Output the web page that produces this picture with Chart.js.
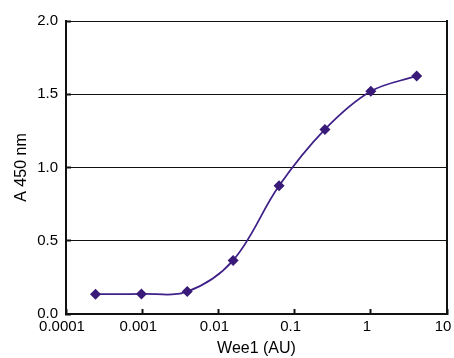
<!DOCTYPE html>
<html>
<head>
<meta charset="utf-8">
<script src="https://cdn.jsdelivr.net/npm/chart.js@4/dist/chart.umd.min.js"></script>
<style>
  html, body { margin: 0; padding: 0; background: #fff; }
  #wrap { width: 454px; height: 358px; position: relative; }
</style>
</head>
<body>
<div id="wrap"><canvas id="c" width="454" height="358"></canvas></div>
<script>
// Wee1 dilution series (AU) and measured absorbance at 450 nm
const wee1AU = [0.000244, 0.000977, 0.0039, 0.0156, 0.0625, 0.25, 1, 4];
const a450 = [0.135, 0.137, 0.153, 0.366, 0.875, 1.26, 1.52, 1.625];

// Axis ticks
const xTickValues = [0.0001, 0.001, 0.01, 0.1, 1, 10];
const xTickLabels = ['0.0001', '0.001', '0.01', '0.1', '1', '10'];
const yTickValues = [0, 0.5, 1.0, 1.5, 2.0];

const FONT = "'Liberation Sans', Arial, Helvetica, sans-serif";
const INK = '#111111';
const LINE = '#3f2088';
const MARK = '#3a1a78';

new Chart(document.getElementById('c'), {
  type: 'scatter',
  data: {
    datasets: [{
      data: wee1AU.map((x, i) => ({ x: x, y: a450[i] })),
      showLine: true,
      tension: 0.35,
      borderColor: LINE,
      borderWidth: 1.75,
      pointStyle: 'rectRot',
      pointRadius: 5.5,
      pointHoverRadius: 5.5,
      pointBackgroundColor: MARK,
      pointBorderColor: MARK,
      pointBorderWidth: 0
    }]
  },
  options: {
    responsive: false,
    animation: false,
    devicePixelRatio: 1,
    layout: { padding: { top: 21, right: 7, left: 0, bottom: 0 } },
    plugins: { legend: { display: false }, tooltip: { enabled: false } },
    scales: {
      x: {
        type: 'logarithmic',
        min: 0.0001,
        max: 10,
        afterBuildTicks: s => { s.ticks = xTickValues.map(v => ({ value: v })); },
        afterFit: s => { s.height = 44; s.paddingLeft = 0; s.paddingRight = 0; },
        border: { display: true, color: INK, width: 2 },
        grid: {
          drawOnChartArea: false,
          tickColor: INK,
          tickWidth: 2,
          tickLength: -5
        },
        ticks: {
          autoSkip: false,
          maxRotation: 0,
          padding: 9,
          labelOffset: -4,
          color: '#000',
          font: { family: FONT, size: 15 },
          callback: v => {
            const i = xTickValues.indexOf(v);
            return i >= 0 ? xTickLabels[i] : '';
          }
        },
        title: {
          display: true,
          text: 'Wee1 (AU)',
          color: '#000',
          font: { family: FONT, size: 16 },
          padding: { top: 0, bottom: 0 }
        }
      },
      y: {
        min: 0,
        max: 2,
        afterBuildTicks: s => { s.ticks = yTickValues.map(v => ({ value: v })); },
        afterFit: s => { s.width = 66; s.paddingTop = 0; s.paddingBottom = 0; },
        border: { display: true, color: INK, width: 2 },
        grid: {
          color: INK,
          lineWidth: 1,
          tickColor: INK,
          tickWidth: 2,
          tickLength: -5
        },
        ticks: {
          padding: 13,
          color: '#000',
          font: { family: FONT, size: 15 },
          callback: v => Number(v).toFixed(1)
        },
        title: {
          display: true,
          text: 'A 450 nm',
          color: '#000',
          font: { family: FONT, size: 16 },
          padding: { top: 12, bottom: 0 }
        }
      },
      // right-hand frame line of the plot area
      yRight: {
        position: 'right',
        min: 0,
        max: 2,
        afterFit: s => { s.width = 0; },
        border: { display: true, color: INK, width: 2 },
        grid: { drawOnChartArea: false, drawTicks: false },
        ticks: { display: false }
      }
    }
  }
});
</script>
</body>
</html>
